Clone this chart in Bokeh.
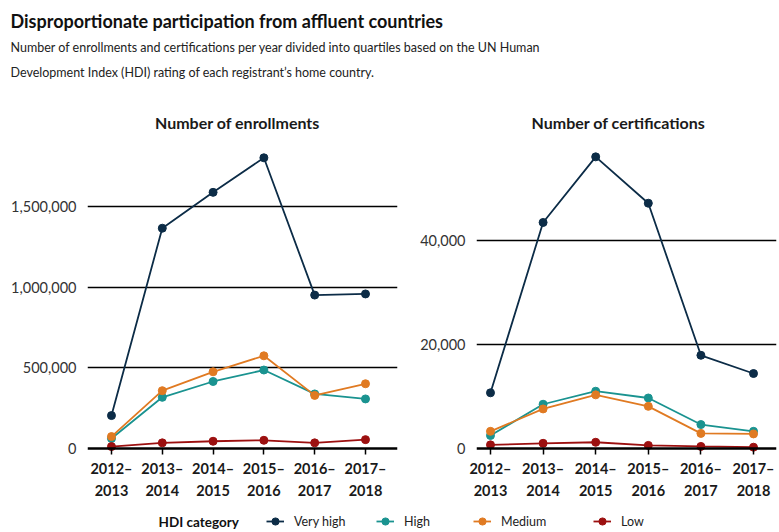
import numpy as np
from bokeh.plotting import figure
from bokeh.models import (Range1d, FixedTicker, NumeralTickFormatter, Span, Label,
                          Legend, LegendItem)
from bokeh.layouts import column, row
from bokeh.embed import file_html
from bokeh.resources import INLINE

# ---------------- data ----------------
years = ["2012–2013", "2013–2014", "2014–2015", "2015–2016", "2016–2017", "2017–2018"]
categories = ["Very high", "High", "Medium", "Low"]

enroll_very_high = [204000, 1364000, 1586000, 1800000, 950000, 957000]
enroll_high = [62000, 317000, 415000, 486000, 338000, 307000]
enroll_medium = [74000, 358000, 475000, 574000, 329000, 401000]
enroll_low = [12000, 35000, 45000, 51000, 35000, 55000]

cert_very_high = [10700, 43400, 56000, 47100, 17900, 14400]
cert_high = [2500, 8500, 11000, 9700, 4600, 3300]
cert_medium = [3300, 7600, 10300, 8100, 2900, 2800]
cert_low = [700, 1000, 1200, 600, 400, 250]

enroll_ticks = [0, 500000, 1000000, 1500000]
cert_ticks = [0, 20000, 40000]

panel_titles = ["Number of enrollments", "Number of certifications"]

colors = ["#0c2c47", "#1a9390", "#e07a22", "#9c1010"]

FONT = "Lato"
TEXT = "#1a1a1a"

x_idx = list(range(len(years)))
x_labels = {i: y.replace("–", "–\n") for i, y in enumerate(years)}


def make_panel(series, y_rng, ticks, width, x_rng, b_left, b_right):
    p = figure(width=width, height=367, x_range=Range1d(*x_rng), y_range=Range1d(*y_rng),
               output_backend="svg", toolbar_location=None,
               min_border_left=b_left, min_border_right=b_right,
               min_border_top=6, min_border_bottom=46)
    p.outline_line_color = None

    p.xgrid.visible = False
    p.ygrid.ticker = FixedTicker(ticks=ticks[1:])
    p.ygrid.grid_line_color = "black"
    p.ygrid.grid_line_width = 1.3
    p.add_layout(Span(location=0, dimension="width", line_color="black", line_width=2.5))

    ya = p.yaxis[0]
    ya.ticker = FixedTicker(ticks=ticks)
    ya.formatter = NumeralTickFormatter(format="0,0")
    ya.axis_line_color = None
    ya.major_tick_line_color = None
    ya.minor_tick_line_color = None
    ya.major_label_standoff = 5
    ya.major_label_text_font = FONT
    ya.major_label_text_font_size = "14.5px"
    ya.major_label_text_color = "#333333"

    xa = p.xaxis[0]
    xa.ticker = FixedTicker(ticks=x_idx)
    xa.major_label_overrides = x_labels
    xa.axis_line_color = None
    xa.minor_tick_line_color = None
    xa.major_tick_in = 6
    xa.major_tick_out = 0
    xa.major_tick_line_color = "black"
    xa.major_tick_line_width = 1.5
    xa.major_label_standoff = 5
    xa.major_label_text_font = FONT
    xa.major_label_text_font_size = "14.5px"
    xa.major_label_text_font_style = "bold"
    xa.major_label_text_color = TEXT
    xa.major_label_text_line_height = 1.3

    for vals, c in zip(series, colors):
        p.line(x_idx, vals, line_color=c, line_width=1.8)
        p.scatter(x_idx, vals, size=8, fill_color=c, line_color=c)
    return p


left = make_panel([enroll_very_high, enroll_high, enroll_medium, enroll_low],
                  (-37000, 1907000), enroll_ticks, 400, (-0.472, 5.63), 87, 3)
right = make_panel([cert_very_high, cert_high, cert_medium, cert_low],
                   (-1148, 59139), cert_ticks, 379, (-0.266, 5.437), 76, 3)

# ---------------- header (title, subtitle, panel titles) ----------------
HEAD_H = 134
head = figure(width=779, height=HEAD_H, x_range=Range1d(0, 1), y_range=Range1d(0, 1),
              output_backend="svg", toolbar_location=None, min_border=0,
              x_axis_type=None, y_axis_type=None)
head.outline_line_color = None
head.grid.visible = False
head.add_layout(Label(x=10, y=HEAD_H - 20, x_units="screen", y_units="screen",
                      text="Disproportionate participation from affluent countries",
                      text_font=FONT, text_font_size="18px", text_font_style="bold",
                      text_color="#111111", text_baseline="middle"))
head.add_layout(Label(x=10, y=HEAD_H - 47, x_units="screen", y_units="screen",
                      text="Number of enrollments and certifications per year divided into quartiles based on the UN Human",
                      text_font=FONT, text_font_size="12.5px", text_color="#222222",
                      text_baseline="middle"))
head.add_layout(Label(x=10, y=HEAD_H - 72, x_units="screen", y_units="screen",
                      text="Development Index (HDI) rating of each registrant’s home country.",
                      text_font=FONT, text_font_size="12.5px", text_color="#222222",
                      text_baseline="middle"))
for t, tx in zip(panel_titles, [237, 618]):
    head.add_layout(Label(x=tx, y=HEAD_H - 122, x_units="screen", y_units="screen",
                          text=t, text_font=FONT, text_font_size="16px",
                          text_font_style="bold", text_color=TEXT,
                          text_align="center", text_baseline="middle"))

# ---------------- legend ----------------
leg = figure(width=779, height=31, x_range=Range1d(0, 1), y_range=Range1d(-2, -1),
             output_backend="svg", toolbar_location=None, min_border=0,
             x_axis_type=None, y_axis_type=None)
leg.outline_line_color = None
leg.grid.visible = False
legend_x = [266, 376, 473, 593]
for name, vals, c, lx in zip(categories,
                             [enroll_very_high, enroll_high, enroll_medium, enroll_low],
                             colors, legend_x):
    lr = leg.line(x_idx, vals, line_color=c, line_width=1.8)
    sr = leg.scatter(x_idx, vals, size=8, fill_color=c, line_color=c)
    lg = Legend(items=[LegendItem(label=name, renderers=[lr, sr])],
                orientation="horizontal", location=(lx, 1),
                padding=0, margin=0, spacing=0, label_standoff=10,
                glyph_width=18, glyph_height=20, label_height=20,
                border_line_color=None, background_fill_alpha=0,
                label_text_font=FONT, label_text_font_size="12.5px",
                label_text_color="#222222")
    leg.add_layout(lg)
leg.add_layout(Label(x=158, y=11, x_units="screen", y_units="screen",
                     text="HDI category", text_font=FONT, text_font_size="13.5px",
                     text_font_style="bold", text_color="#111111",
                     text_baseline="middle"))

layout = column(head, row(left, right), leg, spacing=0)
open("out.html", "w").write(file_html(layout, INLINE))
